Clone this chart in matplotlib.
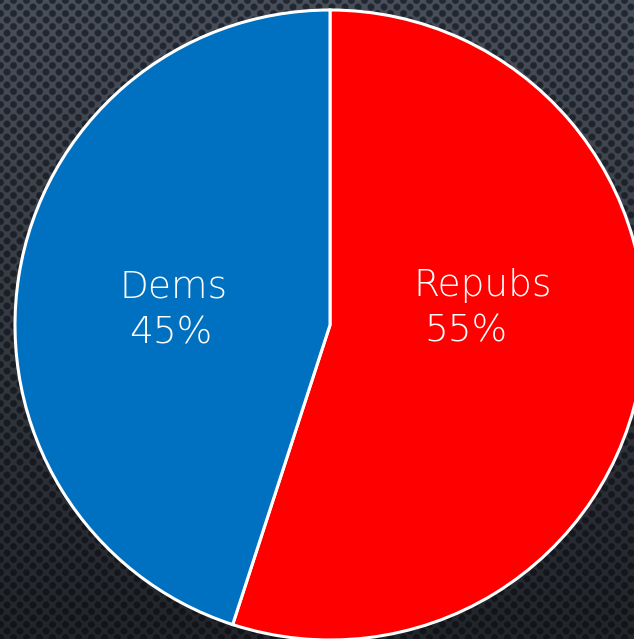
import numpy as np
import matplotlib
matplotlib.use("Agg")
import matplotlib.pyplot as plt
from matplotlib import font_manager

labels = ["Repubs", "Dems"]
values = [55, 45]
colors = ["#FF0000", "#0070C0"]

W, H = 634, 639
fig = plt.figure(figsize=(W / 100, H / 100), dpi=100)

# textured dark background
yy, xx = np.mgrid[0:H, 0:W].astype(float)
p = 13.0
def lat_d(ox, oy):
    dx = ((xx + ox) % p) - p / 2
    dy = ((yy + oy) % p) - p / 2
    return np.hypot(dx, dy)
d = np.minimum(lat_d(0, 0), lat_d(p / 2, p / 2))
dot = np.clip((4.2 - d) / 1.5, 0, 1)
t = yy / H
light = np.array([0x4a, 0x50, 0x5a]) / 255
light_b = np.array([0x22, 0x25, 0x2a]) / 255
dark = np.array([0x22, 0x28, 0x33]) / 255
dark_b = np.array([0x12, 0x14, 0x18]) / 255
lc = light[None, None, :] * (1 - t[..., None]) + light_b[None, None, :] * t[..., None]
dc = dark[None, None, :] * (1 - t[..., None]) + dark_b[None, None, :] * t[..., None]
img = lc * (1 - dot[..., None]) + dc * dot[..., None]

bg = fig.add_axes([0, 0, 1, 1])
bg.imshow(img, aspect="auto", interpolation="nearest")
bg.axis("off")

cx, cy, r = 330, 325, 315
ax = fig.add_axes([(cx - r) / W, (H - cy - r) / H, 2 * r / W, 2 * r / H])
wedges, _ = ax.pie(values, colors=colors, startangle=90, counterclock=False,
                   wedgeprops=dict(edgecolor="white", linewidth=2.2, clip_on=False))
ax.set_xlim(-1, 1)
ax.set_ylim(-1, 1)
ax.set_aspect("equal")
ax.axis("off")

def fx(x):
    return x / W
def fy(y):
    return 1 - y / H

txt = dict(color="white", fontsize=27, family="DejaVu Sans", fontweight="light",
           ha="left", va="baseline", transform=fig.transFigure)
fig.text(fx(119), fy(297), "Dems", **txt)
fig.text(fx(129), fy(343), f"{values[1]}%", **txt)
fig.text(fx(413), fy(296), "Repubs", **txt)
fig.text(fx(424), fy(342), f"{values[0]}%", **txt)

fig.savefig("out.png", dpi=100)
